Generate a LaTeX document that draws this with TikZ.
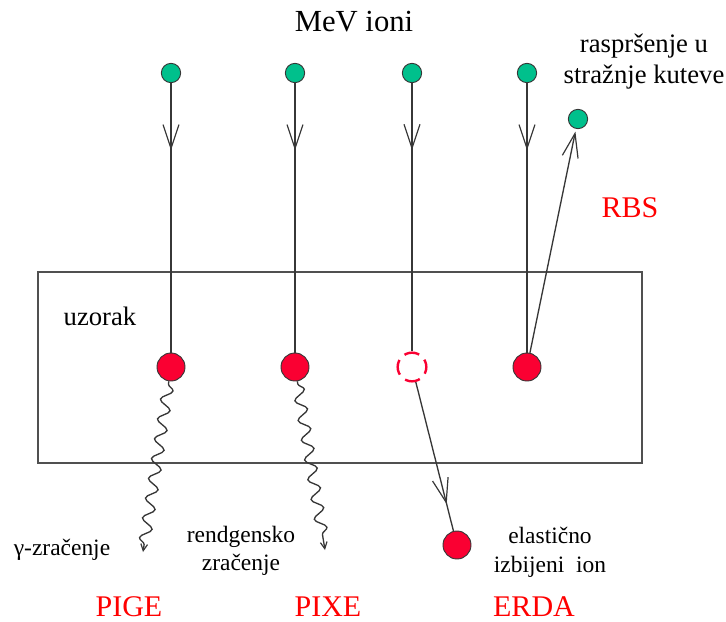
\documentclass[tikz,border=0pt]{standalone}
\usepackage{fontspec}
\setmainfont{Liberation Serif}
\usetikzlibrary{arrows.meta,decorations.markings,decorations.pathmorphing}
\definecolor{iongreen}{RGB}{0,192,140}
\definecolor{hitred}{RGB}{250,0,50}
\definecolor{linegray}{RGB}{55,55,55}
\definecolor{boxgray}{RGB}{80,80,80}
\begin{document}
\begin{tikzpicture}[x=0.75pt,y=-0.75pt,
  ion/.style={circle,draw=linegray,line width=0.7pt,fill=iongreen,minimum size=14.5pt,inner sep=0pt},
  hit/.style={circle,draw=linegray,line width=0.7pt,fill=hitred,minimum size=21pt,inner sep=0pt},
  ghost/.style={circle,draw=hitred,line width=1.8pt,dash pattern=on 11.5pt off 5.5pt,dash phase=5.75pt,fill=white,minimum size=21.5pt,inner sep=0pt},
  track/.style={draw=linegray,line width=1pt},
  midarrow/.style={postaction={decorate},decoration={markings,mark=at position #1 with {\arrow[linegray]{Straight Barb[length=18pt,width=12pt,line width=0.9pt]}}}},
  wave/.style={draw=linegray,line width=1pt,decorate,decoration={snake,amplitude=4.2pt,segment length=15pt,post length=5pt,pre length=2pt}},
  small/.style={font=\fontsize{17.6}{21.5}\selectfont,align=center,inner sep=0pt},
  method/.style={font=\fontsize{22.5}{27}\selectfont,text=red,inner sep=0pt}
]
\useasboundingbox (0,0) rectangle (726,622);

% sample box
\draw[draw=boxgray,line width=1pt] (38,272) rectangle (642,463);
\node[font=\fontsize{20}{24}\selectfont,inner sep=0pt] (uz) at (100,316) {uzorak};

% title
\node[font=\fontsize{23}{27}\selectfont,inner sep=0pt] (title) at (354,22) {MeV ioni};

% incoming ions
\node[ion] (g1) at (171,73) {};
\node[ion] (g2) at (295,73) {};
\node[ion] (g3) at (412,73) {};
\node[ion] (g4) at (527,73) {};

% interaction points
\node[hit] (r1) at (171,367) {};
\node[hit] (r2) at (295,367) {};
\node[ghost] (r3) at (412,367) {};
\node[hit] (r4) at (527,367) {};

% recoil and backscattered
\node[hit] (e) at (457,545) {};
\node[ion] (s) at (578,119) {};

% incoming tracks
\draw[track,midarrow=0.25] (g1) -- (r1);
\draw[track,midarrow=0.25] (g2) -- (r2);
\draw[track,midarrow=0.25] (g3) -- (r3);
\draw[track,midarrow=0.25] (g4) -- (r4);

% ERDA recoil
\draw[track,midarrow=0.82] (r3) -- (e);
% RBS
\draw[track,-{Straight Barb[length=18pt,width=12pt,line width=0.9pt]},shorten >=2pt] (r4) -- (s);

% emitted radiation
\coordinate (w1) at (143,552);
\coordinate (w2) at (325,550);
\draw[wave,-{Straight Barb[length=5pt,width=5pt,line width=0.9pt]}] (r1) -- (w1);
\draw[wave,-{Straight Barb[length=5pt,width=5pt,line width=0.9pt]}] (r2) -- (w2);

% labels
\node[small] (gam) at (62,550) {γ-zračenje};
\node[small] (rtg) at (241,551) {rendgensko\\zračenje};
\node[small] (el) at (550,552) {elastično\\izbijeni\ \ ion};
\node[font=\fontsize{20}{23.2}\selectfont,align=center,inner sep=0pt] (bs) at (644,62) {raspršenje u\\stražnje kuteve};

\node[method] (pige) at (129,607) {PIGE};
\node[method] (pixe) at (328,607) {PIXE};
\node[method] (erda) at (534,607) {ERDA};
\node[method] (rbs) at (630,208) {RBS};
\end{tikzpicture}
\end{document}
